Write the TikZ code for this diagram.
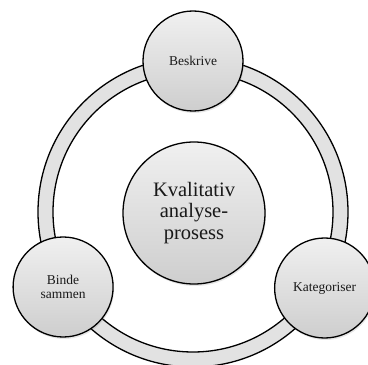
\documentclass[tikz,border=0pt]{standalone}
\usepackage{fontspec}
\setmainfont{Liberation Serif}
\usepackage{tikz}
\usetikzlibrary{shadows}
\definecolor{ringgray}{RGB}{226,226,226}
\definecolor{topgray}{RGB}{240,240,240}
\definecolor{botgray}{RGB}{206,206,206}
\definecolor{inkgray}{RGB}{25,25,25}

\begin{document}
\begin{tikzpicture}[x=1pt,y=1pt,
    stage/.style={circle,draw=black,line width=1.3pt,minimum size=100pt,inner sep=0pt,
      top color=topgray,bottom color=botgray,text=inkgray,align=center,
      drop shadow={opacity=0.2,shadow xshift=1pt,shadow yshift=-2pt},
      font=\fontsize{13.5}{13.5}\selectfont}]
  \useasboundingbox (0,0) rectangle (368,365);
  \coordinate (ctr) at (193,153);
  % ring
  \fill[ringgray,even odd rule] (ctr) circle[radius=155] (ctr) circle[radius=140];
  \draw[line width=1.3pt] (ctr) circle[radius=155];
  \draw[line width=1.3pt] (ctr) circle[radius=140];
  % circles
  \node[stage,minimum size=142pt,font=\fontsize{20.5}{21.7}\selectfont] (core) at (194,152)
        {Kvalitativ\\analyse-\\prosess};
  \path (ctr) ++(90:151) node[stage] (beskrive) {Beskrive};
  \path (ctr) ++(210:150) node[stage] (binde) {Binde\\sammen};
  \path (ctr) ++(330:152) node[stage] (kategoriser) {Kategoriser};
\end{tikzpicture}
\end{document}
